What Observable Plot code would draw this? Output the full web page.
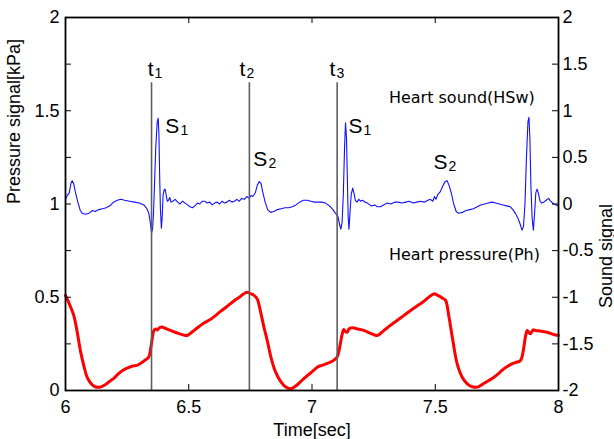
<!DOCTYPE html>
<html><head><meta charset="utf-8">
<script src="https://cdn.jsdelivr.net/npm/d3@7"></script>
<script src="https://cdn.jsdelivr.net/npm/@observablehq/plot@0.6"></script>
<style>html,body{margin:0;padding:0;background:#fff;}</style>
</head><body><div id="chart"></div>
<script>
// ---- data ----
const xTicks = [6, 6.5, 7, 7.5, 8];
const xTickLabels = ["6", "6.5", "7", "7.5", "8"];
const leftTicks = [0, 0.5, 1, 1.5, 2];
const leftTickLabels = ["0", "0.5", "1", "1.5", "2"];
const rightTickValues = [-2, -1.5, -1, -0.5, 0, 0.5, 1, 1.5, 2];
const rightTickLabels = ["-2", "-1.5", "-1", "-0.5", "0", "0.5", "1", "1.5", "2"];
const markerTimes = [6.349, 6.746, 7.102];
const markerTop = 1.65;
const markerLabels = [
  {main: "t", sub: "1", x: 6.357, y: 1.689},
  {main: "t", sub: "2", x: 6.730, y: 1.689},
  {main: "t", sub: "3", x: 7.095, y: 1.689}
];
const soundLabels = [
  {main: "S", sub: "1", x: 6.462, y: 1.383},
  {main: "S", sub: "2", x: 6.819, y: 1.206},
  {main: "S", sub: "1", x: 7.205, y: 1.383},
  {main: "S", sub: "2", x: 7.550, y: 1.185}
];
const seriesLabels = [
  {text: "Heart sound(HSw)", x: 7.312, y: 1.539},
  {text: "Heart pressure(Ph)", x: 7.312, y: 0.702}
];
// heart sound, right axis units [time, value]
const heartSound = [
[6.000,0.05],[6.007,0.09],[6.015,0.12],[6.022,0.22],[6.027,0.25],[6.033,0.22],[6.040,0.13],[6.050,0.02],
[6.060,-0.07],[6.068,-0.10],[6.080,-0.11],[6.095,-0.10],[6.110,-0.07],[6.120,-0.08],[6.135,-0.06],[6.150,-0.05],
[6.165,-0.04],[6.180,-0.02],[6.195,0.02],[6.210,0.04],[6.225,0.05],[6.240,0.04],[6.260,0.03],[6.280,0.02],
[6.300,0.01],[6.318,-0.01],[6.330,-0.05],[6.338,-0.10],[6.344,-0.20],[6.349,-0.31],[6.353,-0.27],[6.357,-0.10],
[6.361,0.20],[6.366,0.60],[6.372,0.88],[6.376,0.92],[6.379,0.75],[6.382,0.30],[6.385,-0.05],[6.389,-0.26],
[6.392,-0.15],[6.396,0.10],[6.400,0.15],[6.404,0.16],[6.408,0.10],[6.413,0.03],[6.418,0.04],[6.423,0.07],
[6.428,0.02],[6.435,0.03],[6.445,0.05],[6.455,0.02],[6.465,0.00],[6.475,0.03],[6.485,0.01],[6.495,-0.01],
[6.505,-0.03],[6.515,-0.04],[6.525,-0.02],[6.535,0.01],[6.545,0.00],[6.555,0.03],[6.565,0.03],[6.575,0.01],
[6.585,0.02],[6.595,-0.01],[6.605,0.01],[6.615,0.02],[6.625,0.00],[6.635,0.03],[6.645,0.01],[6.655,0.02],
[6.665,0.04],[6.675,0.02],[6.685,0.03],[6.695,0.05],[6.705,0.03],[6.715,0.06],[6.725,0.05],[6.735,0.08],
[6.745,0.06],[6.752,0.09],[6.760,0.08],[6.770,0.12],[6.778,0.20],[6.786,0.24],[6.793,0.22],[6.800,0.13],
[6.810,0.02],[6.820,-0.06],[6.832,-0.09],[6.845,-0.08],[6.860,-0.06],[6.875,-0.05],[6.890,-0.04],[6.905,-0.04],
[6.920,-0.03],[6.935,-0.01],[6.950,0.02],[6.965,0.04],[6.980,0.04],[6.995,0.03],[7.010,0.02],[7.025,0.02],
[7.040,0.02],[7.055,0.01],[7.065,-0.01],[7.075,-0.03],[7.085,-0.06],[7.095,-0.10],[7.105,-0.13],[7.112,-0.22],
[7.117,-0.27],[7.122,-0.20],[7.127,0.10],[7.132,0.60],[7.136,0.87],[7.140,0.70],[7.144,0.20],[7.147,-0.15],
[7.150,-0.27],[7.154,-0.10],[7.159,0.10],[7.165,0.17],[7.170,0.12],[7.176,0.04],[7.183,0.02],[7.190,0.05],
[7.197,0.03],[7.205,0.04],[7.215,0.02],[7.225,0.01],[7.240,-0.02],[7.255,-0.01],[7.265,-0.03],[7.278,-0.03],
[7.290,-0.01],[7.305,0.01],[7.320,0.00],[7.335,0.02],[7.350,0.02],[7.365,0.01],[7.380,0.02],[7.395,0.03],
[7.410,0.01],[7.425,0.02],[7.440,0.03],[7.455,0.02],[7.470,0.04],[7.480,0.05],[7.490,0.03],[7.497,0.08],
[7.503,0.05],[7.510,0.10],[7.520,0.13],[7.530,0.19],[7.540,0.24],[7.548,0.25],[7.556,0.20],[7.565,0.12],
[7.575,0.00],[7.585,-0.08],[7.595,-0.10],[7.610,-0.09],[7.625,-0.07],[7.640,-0.06],[7.655,-0.05],[7.670,-0.03],
[7.685,-0.01],[7.700,0.00],[7.715,0.01],[7.730,0.02],[7.745,0.01],[7.760,0.00],[7.775,-0.01],[7.790,-0.02],
[7.805,-0.03],[7.815,-0.06],[7.825,-0.10],[7.835,-0.15],[7.845,-0.22],[7.852,-0.28],[7.858,-0.24],[7.864,0.00],
[7.870,0.50],[7.876,0.88],[7.880,0.93],[7.884,0.70],[7.888,0.20],[7.893,-0.15],[7.898,-0.28],[7.903,-0.10],
[7.908,0.12],[7.913,0.16],[7.918,0.12],[7.925,0.03],[7.932,0.01],[7.940,0.02],[7.950,0.04],[7.960,0.06],
[7.968,0.03],[7.980,0.00],[7.990,-0.01],[8.000,-0.02]
];
// heart pressure, kPa [time, value]
const heartPressure = [
[6.000,0.51],[6.007,0.49],[6.020,0.45],[6.034,0.40],[6.048,0.31],[6.061,0.21],[6.075,0.13],[6.088,0.07],
[6.105,0.035],[6.120,0.02],[6.142,0.018],[6.160,0.03],[6.180,0.05],[6.196,0.065],[6.215,0.09],[6.235,0.11],
[6.250,0.12],[6.270,0.13],[6.290,0.135],[6.304,0.145],[6.320,0.16],[6.338,0.18],[6.345,0.22],[6.352,0.28],
[6.358,0.32],[6.365,0.33],[6.372,0.325],[6.380,0.335],[6.390,0.34],[6.402,0.335],[6.420,0.325],[6.439,0.315],
[6.460,0.305],[6.480,0.297],[6.494,0.295],[6.510,0.31],[6.534,0.335],[6.560,0.36],[6.580,0.375],[6.602,0.395],
[6.625,0.42],[6.650,0.445],[6.683,0.48],[6.705,0.50],[6.725,0.52],[6.737,0.527],[6.750,0.52],[6.765,0.51],
[6.778,0.49],[6.790,0.43],[6.805,0.34],[6.818,0.27],[6.835,0.17],[6.852,0.10],[6.872,0.05],[6.892,0.02],
[6.913,0.009],[6.935,0.025],[6.960,0.055],[6.981,0.08],[7.000,0.10],[7.021,0.125],[7.040,0.135],[7.062,0.145],
[7.085,0.16],[7.102,0.18],[7.112,0.23],[7.122,0.30],[7.129,0.327],[7.136,0.315],[7.143,0.313],[7.150,0.33],
[7.163,0.336],[7.185,0.33],[7.210,0.322],[7.240,0.305],[7.265,0.295],[7.290,0.32],[7.318,0.349],[7.360,0.39],
[7.400,0.429],[7.450,0.475],[7.494,0.518],[7.510,0.51],[7.530,0.495],[7.542,0.483],[7.555,0.40],[7.570,0.28],
[7.589,0.143],[7.610,0.07],[7.630,0.036],[7.650,0.02],[7.670,0.018],[7.700,0.04],[7.738,0.071],[7.760,0.095],
[7.778,0.116],[7.800,0.135],[7.825,0.15],[7.846,0.161],[7.858,0.22],[7.866,0.29],[7.873,0.322],[7.880,0.31],
[7.886,0.304],[7.897,0.325],[7.907,0.322],[7.930,0.318],[7.960,0.31],[7.980,0.30],[8.000,0.295]
];

// ---- layout ----
const W = 614, H = 439, mL = 65, mR = 56, mT = 17, mB = 49;
const innerW = W - mL - mR, innerH = H - mT - mB;
const font = "'Liberation Sans', Arial, Helvetica, sans-serif";
const toLeft = v => (v + 2) / 2;  // right axis (sound) -> left axis units
const tickLen = 6;
const minorTicks = d3.range(0, 2.0001, 0.25);

const chart = Plot.plot({
  width: W, height: H,
  marginLeft: mL, marginRight: mR, marginTop: mT, marginBottom: mB,
  x: {domain: [6, 8], axis: null},
  y: {domain: [0, 2], axis: null},
  style: {fontFamily: font, fontSize: "18px", background: "#fff", color: "#000"},
  marks: [
    Plot.line(heartSound, {x: d => d[0], y: d => toLeft(d[1]), stroke: "#1010ff", strokeWidth: 1.1}),
    Plot.line(heartPressure, {x: d => d[0], y: d => d[1], stroke: "#ff0000", strokeWidth: 3, curve: "catmull-rom"}),
    Plot.ruleX(markerTimes, {x: d => d, y1: 0, y2: markerTop, stroke: "#5f5f5f", strokeWidth: 1.6}),
    Plot.ruleX(xTicks, {x: d => d, insetTop: innerH - tickLen, stroke: "#000"}),
    Plot.ruleX(xTicks, {x: d => d, insetBottom: innerH - tickLen, stroke: "#000"}),
    Plot.ruleY(minorTicks, {y: d => d, insetRight: innerW - tickLen, stroke: "#000"}),
    Plot.ruleY(rightTickValues, {y: d => toLeft(d), insetLeft: innerW - tickLen, stroke: "#000"}),
    Plot.frame({stroke: "#000", strokeWidth: 1.8}),
    Plot.axisX({ticks: xTicks, tickSize: 0, tickPadding: 10, tickFormat: (d, i) => xTickLabels[i], fontSize: 18, label: null}),
    Plot.axisY({anchor: "left", ticks: leftTicks, tickSize: 0, tickPadding: 6, tickFormat: (d, i) => leftTickLabels[i], fontSize: 18, label: null}),
    Plot.axisY({anchor: "right", ticks: rightTickValues.map(toLeft), tickSize: 0, tickPadding: 4, tickFormat: (d, i) => rightTickLabels[i], fontSize: 18, label: null}),
    Plot.text(["Pressure signal[kPa]"], {frameAnchor: "left", rotate: -90, dx: -51, fontSize: 18}),
    Plot.text(["Sound signal"], {frameAnchor: "right", rotate: -90, dx: 48, fontSize: 18}),
    Plot.text(["Time[sec]"], {frameAnchor: "bottom", dy: 45, fontSize: 18}),
    Plot.text(markerLabels, {x: "x", y: "y", text: "main", textAnchor: "end", lineAnchor: "bottom", fontSize: 21}),
    Plot.text(markerLabels, {x: "x", y: "y", text: "sub", textAnchor: "start", lineAnchor: "bottom", dx: 1, dy: 2, fontSize: 14}),
    Plot.text(soundLabels, {x: "x", y: "y", text: "main", textAnchor: "end", lineAnchor: "bottom", fontSize: 21}),
    Plot.text(soundLabels, {x: "x", y: "y", text: "sub", textAnchor: "start", lineAnchor: "bottom", dx: 1, dy: 2, fontSize: 14}),
    Plot.text(seriesLabels, {x: "x", y: "y", text: "text", textAnchor: "start", lineAnchor: "bottom", fontSize: 16, fontFamily: "'DejaVu Sans', sans-serif"})
  ]
});
document.getElementById("chart").append(chart);
</script></body></html>
